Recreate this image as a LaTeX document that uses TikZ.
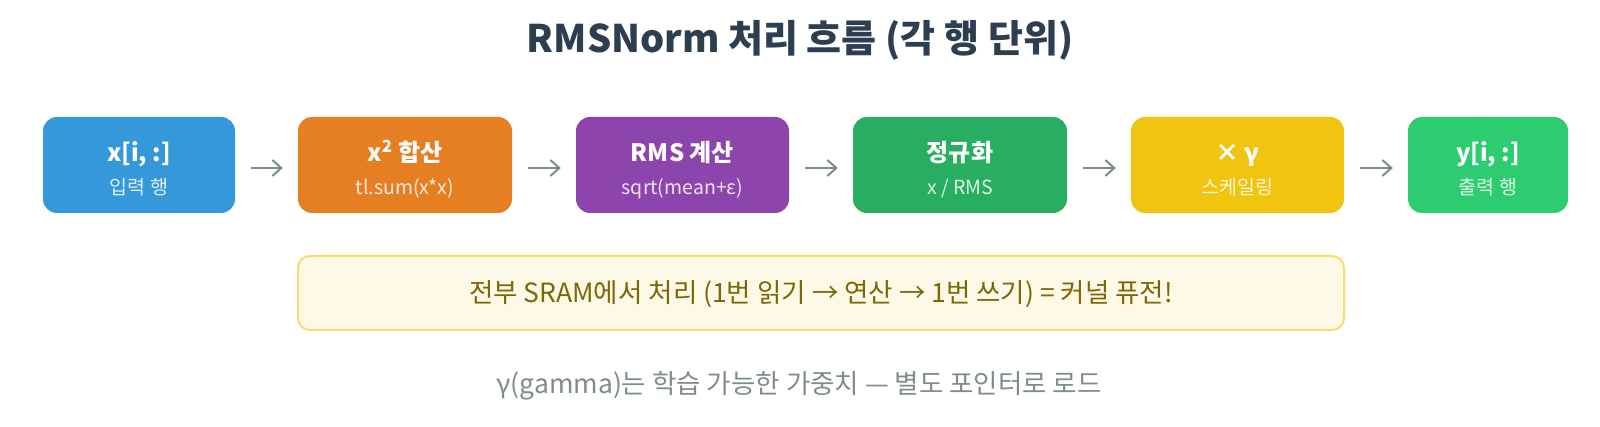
\documentclass[tikz,border=0pt]{standalone}
\usepackage{fontspec}
\setmainfont{Noto Sans CJK KR}
\usetikzlibrary{arrows.meta}
\definecolor{titlec}{HTML}{2C3E50}
\definecolor{cblue}{HTML}{3498DB}
\definecolor{corange}{HTML}{E67E22}
\definecolor{cpurple}{HTML}{8E44AD}
\definecolor{cgreen}{HTML}{27AE60}
\definecolor{cyellow}{HTML}{F1C40F}
\definecolor{clgreen}{HTML}{2ECC71}
\definecolor{arrowc}{HTML}{7F8C8D}
\definecolor{notefill}{HTML}{FEF9E7}
\definecolor{notedraw}{HTML}{F7DC6F}
\definecolor{notetext}{HTML}{7D6608}
\definecolor{footc}{HTML}{7F8C8D}
\tikzset{
  stepbox/.style={rectangle, rounded corners=14pt, draw=none, minimum height=96pt, inner sep=0pt},
  boxtitle/.style={anchor=base, text=white, font=\fontsize{24}{28}\selectfont\bfseries, inner sep=0pt},
  boxsub/.style={anchor=base, text=white, text opacity=0.85, font=\fontsize{19.5}{22}\selectfont, inner sep=0pt},
  flowarrow/.style={draw=arrowc, line width=2pt, -{Straight Barb[length=9pt,width=16pt,line width=2pt]}},
}
\begin{document}
\begin{tikzpicture}[x=1pt,y=-1pt]
\useasboundingbox (0,0) rectangle (1600,427);
\fill[white] (0,0) rectangle (1600,427);
\node[anchor=base, text=titlec, font=\fontsize{38}{44}\selectfont\bfseries, inner sep=0pt] (title) at (800,53) {RMSNorm 처리 흐름 (각 행 단위)};

\node[stepbox, fill=cblue, minimum width=192pt] (b1) at (139,165) {};
\node[stepbox, fill=corange, minimum width=214pt] (b2) at (405,165) {};
\node[stepbox, fill=cpurple, minimum width=213pt] (b3) at (682.5,165) {};
\node[stepbox, fill=cgreen, minimum width=214pt] (b4) at (960,165) {};
\node[stepbox, fill=cyellow, minimum width=213pt] (b5) at (1237.5,165) {};
\node[stepbox, fill=clgreen, minimum width=160pt] (b6) at (1488,165) {};

\node[boxtitle] (t1) at (139,162) {x[i, :]};
\node[boxsub] (s1) at (139,195) {입력 행};
\node[boxtitle] (t2) at (405,162) {x\textsuperscript{2} 합산};
\node[boxsub] (s2) at (405,195) {tl.sum(x*x)};
\node[boxtitle] (t3) at (682.5,162) {RMS 계산};
\node[boxsub] (s3) at (682.5,195) {sqrt(mean+ε)};
\node[boxtitle] (t4) at (960,162) {정규화};
\node[boxsub] (s4) at (960,195) {x / RMS};
\node[boxtitle] (t5) at (1237.5,162) {× γ};
\node[boxsub] (s5) at (1237.5,195) {스케일링};
\node[boxtitle] (t6) at (1488,162) {y[i, :]};
\node[boxsub] (s6) at (1488,195) {출력 행};

\foreach \a/\b in {b1/b2,b2/b3,b3/b4,b4/b5,b5/b6}{
  \draw[flowarrow] ([shift={(16pt,-3pt)}]\a.east) -- ([shift={(-15pt,-3pt)}]\b.west);
}

\node[rectangle, rounded corners=12pt, draw=notedraw, line width=2pt, fill=notefill, minimum width=1046pt, minimum height=74pt, inner sep=0pt] (note) at (821,293) {};
\node[anchor=base, text=notetext, font=\fontsize{26.5}{30}\selectfont, inner sep=0pt] (notetxt) at (821,303) {전부 SRAM에서 처리 (1번 읽기 → 연산 → 1번 쓰기) = 커널 퓨전!};

\node[anchor=base, text=footc, font=\fontsize{26.5}{30}\selectfont, inner sep=0pt] (foot) at (799,393) {γ(gamma)는 학습 가능한 가중치 — 별도 포인터로 로드};
\end{tikzpicture}
\end{document}
